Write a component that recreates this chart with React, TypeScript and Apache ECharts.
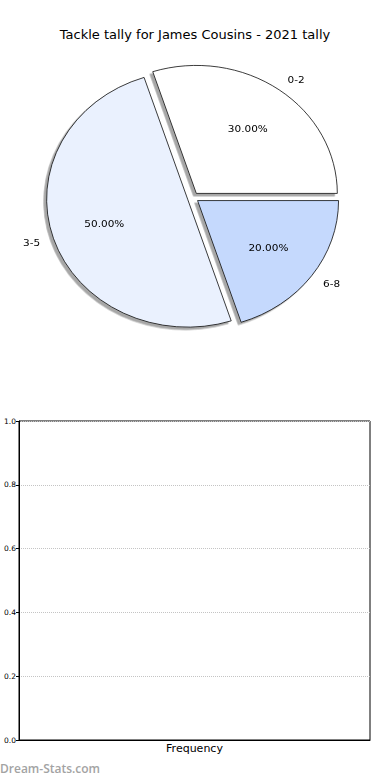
import React, { useEffect, useRef } from "react";
import * as echarts from "echarts";

const chartTitle = "Tackle tally for James Cousins - 2021 tally";
const sliceLabels = ["0-2", "3-5", "6-8"];
const sliceValues = [3, 5, 2];
const sliceColors = ["#ffffff", "#eaf1fe", "#c5d9fd"];
const barCategories = ["Frequency"];
const barValues: number[] = [];
const watermark = "Dream-Stats.com";

const FONT = "DejaVu Sans";
const PIE_SCALE_Y = 128 / 141;
const PIE_CY = 200;
const PIE_TOP = 198 - PIE_SCALE_Y * PIE_CY;

export default function App() {
  const mainRef = useRef<HTMLDivElement>(null);
  const pieRef = useRef<HTMLDivElement>(null);

  useEffect(() => {
    const main = echarts.init(mainRef.current!, undefined, { renderer: "svg" });
    const pie = echarts.init(pieRef.current!, undefined, { renderer: "svg" });

    main.setOption({
      animation: false,
      backgroundColor: "#ffffff",
      title: {
        text: chartTitle,
        left: "center",
        top: 23,
        textStyle: { fontFamily: FONT, fontSize: 13, fontWeight: "normal", color: "#000" },
      },
      grid: {
        left: 19,
        right: 20,
        top: 421,
        bottom: 40,
        show: true,
        borderColor: "#000",
        borderWidth: 1,
        backgroundColor: "#fff",
      },
      xAxis: {
        type: "category",
        data: barCategories,
        axisLine: { lineStyle: { color: "#000", width: 1 } },
        axisTick: { show: false },
        axisLabel: { fontFamily: FONT, fontSize: 11, color: "#000", margin: 3 },
      },
      yAxis: {
        type: "value",
        min: 0,
        max: 1,
        interval: 0.2,
        axisLine: { show: true, lineStyle: { color: "#000", width: 1 } },
        axisTick: { show: true, length: 3, lineStyle: { color: "#000" } },
        splitLine: { show: true, lineStyle: { type: "dotted", color: "#c4c4c4", width: 1 } },
        axisLabel: {
          fontFamily: FONT,
          fontSize: 7.5,
          color: "#000",
          margin: 3,
          formatter: (v: number) => v.toFixed(1),
        },
      },
      series: [{ type: "bar", data: barValues, silent: true }],
      graphic: [
        {
          type: "text",
          left: 0,
          top: 762,
          style: { text: watermark, fontFamily: "Open Sans", fontSize: 12, fill: "#a3a3a3", fontWeight: 600 },
        },
      ],
    });

    const pieData = sliceLabels.map((name, i) => ({
      name,
      value: sliceValues[i],
      selected: true,
      itemStyle: { color: sliceColors[i] },
    }));

    const commonPie = {
      type: "pie",
      center: [193, PIE_CY],
      startAngle: 0,
      clockwise: false,
      selectedMode: "multiple",
      selectedOffset: 5.64,
      avoidLabelOverlap: false,
      minShowLabelAngle: 0,
      silent: true,
      emphasis: { disabled: true },
    };

    const sliceStyle = {
      borderColor: "#000",
      borderWidth: 0.8,
      shadowColor: "rgba(77,77,77,0.5)",
      shadowBlur: 0,
      shadowOffsetX: -2.8,
      shadowOffsetY: 2.8,
    };

    pie.setOption({
      animation: false,
      series: [
        {
          ...commonPie,
          radius: [0, 141],
          data: pieData,
          itemStyle: sliceStyle,
          select: { itemStyle: sliceStyle, label: { color: "#000" } },
          label: {
            show: true,
            position: "outside",
            fontFamily: FONT,
            fontSize: 10.5,
            color: "#000",
            distanceToLabelLine: 0,
            formatter: (p: any) => p.name,
          },
          labelLine: { show: false, length: 14.1, length2: 0 },
        },
        {
          ...commonPie,
          radius: [28.2, 141],
          data: pieData.map((d) => ({ ...d, itemStyle: { color: "rgba(0,0,0,0)" } })),
          itemStyle: { color: "rgba(0,0,0,0)", borderWidth: 0 },
          select: { itemStyle: { color: "rgba(0,0,0,0)", borderWidth: 0 }, label: { color: "#000" } },
          label: {
            show: true,
            position: "inside",
            fontFamily: FONT,
            fontSize: 10.5,
            color: "#000",
            formatter: (p: any) => p.percent.toFixed(2) + "%",
          },
          labelLine: { show: false },
        },
      ],
    });

    return () => {
      main.dispose();
      pie.dispose();
    };
  }, []);

  return (
    <div style={{ position: "absolute", left: 0, top: 0, width: 390, height: 780 }}>
      <div ref={mainRef} style={{ position: "absolute", left: 0, top: 0, width: 390, height: 780 }} />
      <div
        ref={pieRef}
        style={{
          position: "absolute",
          left: 0,
          top: PIE_TOP,
          width: 390,
          height: 400,
          transform: `scaleY(${PIE_SCALE_Y})`,
          transformOrigin: "top left",
          pointerEvents: "none",
        }}
      />
    </div>
  );
}
